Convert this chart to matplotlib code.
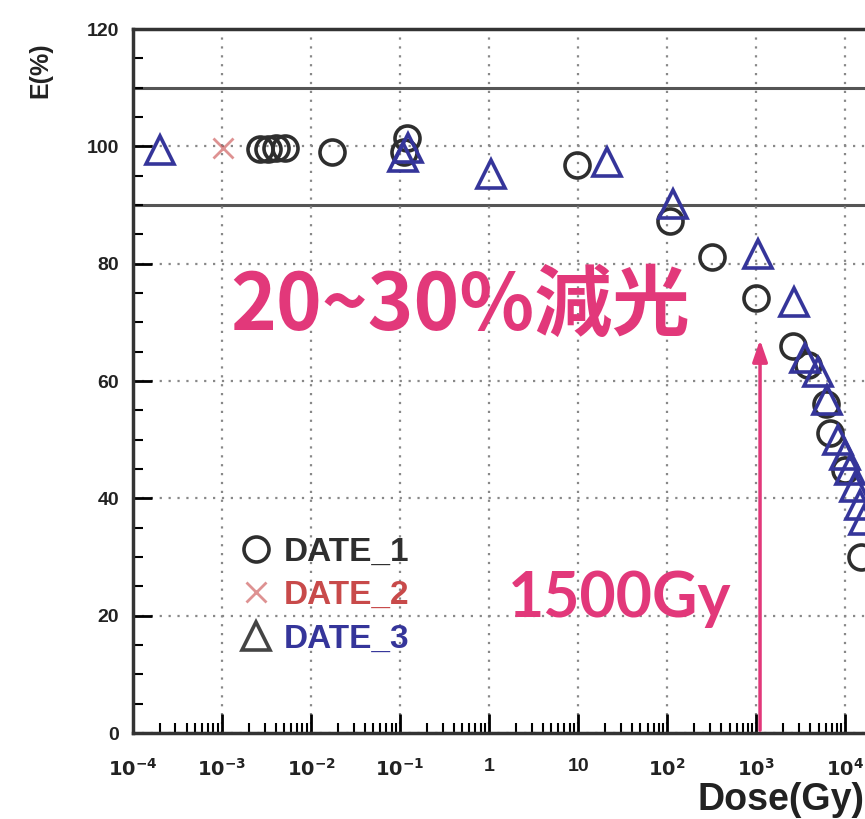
import numpy as np
import matplotlib
matplotlib.use("Agg")
import matplotlib.pyplot as plt
from matplotlib.ticker import FixedLocator, MultipleLocator, LogLocator, NullFormatter
from matplotlib.lines import Line2D

plt.rcParams["font.family"] = ["Liberation Sans", "DejaVu Sans"]

PINK = "#e2387a"
C_DATE1 = "#2e2e2e"
C_DATE2 = "#c84a4a"
C_DATE3 = "#35359a"

# ── Transmittance vs dose ─────────────────────────────────────
dose_1 = [2.7e-3, 3.3e-3, 4.0e-3, 5.1e-3, 0.017, 0.12, 0.11, 9.8, 107, 320,
          980, 2600, 3800, 6100, 6800, 10000, 14800]
e_1 = [99.5, 99.5, 99.8, 99.8, 99.1, 101.5, 99.1, 96.9, 87.2, 81.1,
       74.2, 65.9, 62.8, 56.0, 51.2, 44.9, 30.0]

dose_2 = [1.03e-3]
e_2 = [99.8]

dose_3 = [2.0e-4, 0.108, 0.123, 1.05, 21.2, 117, 1050, 2630, 3560, 4980,
          6280, 8340, 10000, 11380, 12940, 14760, 16330]
e_3 = [99.3, 98.1, 99.8, 95.2, 97.3, 90.1, 81.6, 73.4, 64.0, 61.6,
       56.8, 50.0, 47.4, 44.9, 42.0, 38.9, 36.3]

x_ticks = [1e-4, 1e-3, 1e-2, 1e-1, 1, 10, 1e2, 1e3, 1e4]
x_ticklabels = [r"$\mathbf{10^{-4}}$", r"$\mathbf{10^{-3}}$", r"$\mathbf{10^{-2}}$",
                r"$\mathbf{10^{-1}}$", "1", "10", r"$\mathbf{10^{2}}$",
                r"$\mathbf{10^{3}}$", r"$\mathbf{10^{4}}$"]
y_ticks = [0, 20, 40, 60, 80, 100, 120]
band = [90, 110]
marked_dose = 1100

fig = plt.figure(figsize=(8.65, 8.19), dpi=100)
ax = fig.add_axes([133 / 865, 1 - 733 / 819, 1 - 133 / 865, (733 - 29) / 819])

ax.set_xscale("log")
ax.set_xlim(1e-4, 10 ** 4.22)
ax.set_ylim(0, 120)

for y in band:
    ax.axhline(y, color="#555555", lw=2.2, zorder=1)

ax.grid(True, which="major", color="#888888", linestyle=(0, (1, 3)), lw=1.6)

mk = dict(linestyle="none", markerfacecolor="none", markeredgewidth=2.6, zorder=3)
ax.plot(dose_1, e_1, marker="o", markersize=18, markeredgecolor=C_DATE1, **mk)
ax.plot(dose_2, e_2, marker="x", markersize=14, markeredgecolor=C_DATE2,
        linestyle="none", markeredgewidth=2, alpha=0.6, zorder=3)
ax.plot(dose_3, e_3, marker="^", markersize=20, markeredgecolor=C_DATE3, **mk)

# axes styling
ax.set_xticks(x_ticks)
ax.set_xticklabels(x_ticklabels)
ax.xaxis.set_minor_locator(LogLocator(base=10, subs=np.arange(2, 10)))
ax.xaxis.set_minor_formatter(NullFormatter())
ax.yaxis.set_major_locator(FixedLocator(y_ticks))
ax.yaxis.set_minor_locator(MultipleLocator(5))
ax.tick_params(which="major", direction="in", length=14, width=2, top=False,
               right=False, labelsize=14, pad=10)
ax.tick_params(axis="x", which="major", pad=18)
ax.tick_params(which="minor", direction="in", length=7, width=1.5, top=False, right=False)
for lab in ax.get_yticklabels() + ax.get_xticklabels():
    lab.set_fontweight("bold")
    lab.set_color("#222222")
for side in ["left", "bottom", "top"]:
    ax.spines[side].set_linewidth(2.5)
    ax.spines[side].set_color("#333333")
ax.spines["right"].set_visible(False)

fig.text(40 / 865, 1 - 42 / 819, "E(%)", rotation=90, ha="center", va="top",
         fontsize=18, fontweight="bold", color="#222222")
fig.text(1.0, 1 - 800 / 819, "Dose(Gy)", ha="right", va="center",
         fontsize=27, fontweight="bold", color="#222222")

# legend
handles = [
    Line2D([], [], marker="o", markersize=18, markeredgecolor=C_DATE1, **mk),
    Line2D([], [], marker="x", markersize=14, markeredgecolor=C_DATE2, alpha=0.6,
           linestyle="none", markeredgewidth=2),
    Line2D([], [], marker="^", markersize=20, markeredgecolor="#444444", **mk),
]
ax.legend(handles, ["DATE_1", "DATE_2", "DATE_3"], loc="upper left",
          bbox_to_anchor=(224 / 865, 1 - 520 / 819), bbox_transform=fig.transFigure,
          frameon=False, labelcolor=[C_DATE1, C_DATE2, C_DATE3],
          prop={"weight": "bold", "size": 24}, handlelength=0.9, handletextpad=0.4,
          labelspacing=0.37, borderpad=0)

# annotation
ax.annotate("", xy=(marked_dose, 67.5), xytext=(marked_dose, 0),
            arrowprops=dict(arrowstyle="-|>,head_width=0.45,head_length=1.3",
                            color=PINK, lw=2.5), zorder=4)
fig.text(230 / 865, 1 - 330 / 819, "20~30%減光", ha="left", va="baseline",
         fontsize=56, fontweight="bold", color=PINK,
         family=["Noto Sans CJK JP", "DejaVu Sans"])
fig.text(508 / 865, 1 - 617 / 819, "1500Gy", ha="left", va="baseline",
         fontsize=45, fontweight="bold", color=PINK, family=["Lato", "DejaVu Sans"])

fig.savefig("out.png", dpi=100)
